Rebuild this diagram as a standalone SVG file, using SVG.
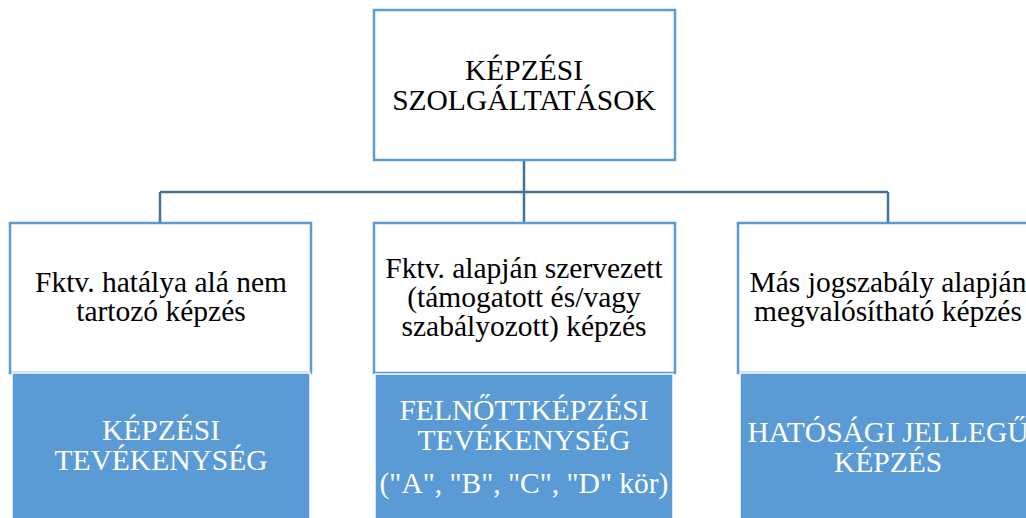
<svg xmlns="http://www.w3.org/2000/svg" width="1026" height="518" viewBox="0 0 1026 518">
<style>
.box{fill:#ffffff;stroke:#5B9BD5;stroke-width:2.5}
.fill{fill:#5B9BD5;stroke:#ffffff;stroke-width:1.5}
.conn{fill:none;stroke:#41719C;stroke-width:2.5}
text{font-family:"Liberation Serif","Times New Roman",serif;font-size:29.5px;text-anchor:middle}
.dark{fill:#000000}
.light{fill:#ffffff}
</style>
<rect width="1026" height="518" fill="#ffffff"/>
<g id="connectors">
<path class="conn" d="M524,160 V223"/>
<path class="conn" d="M160,192 H888"/>
<path class="conn" d="M160,192 V223"/>
<path class="conn" d="M888,192 V223"/>
</g>
<g id="root">
<rect class="box" x="374" y="10" width="301" height="150"/>
<text class="dark" x="524" y="80">KÉPZÉSI</text>
<text class="dark" x="524" y="110">SZOLGÁLTATÁSOK</text>
</g>
<g id="left">
<rect class="box" x="10" y="223" width="301" height="150"/>
<rect class="fill" x="12" y="373" width="298" height="150"/>
<text class="dark" x="161" y="292">Fktv. hatálya alá nem</text>
<text class="dark" x="161" y="321">tartozó képzés</text>
<text class="light" x="161" y="440">KÉPZÉSI</text>
<text class="light" x="161" y="470">TEVÉKENYSÉG</text>
</g>
<g id="middle">
<rect class="box" x="374" y="223" width="301" height="150"/>
<rect class="fill" x="375" y="374" width="298" height="150"/>
<text class="dark" x="524" y="278">Fktv. alapján szervezett</text>
<text class="dark" x="524" y="307">(támogatott és/vagy</text>
<text class="dark" x="524" y="336">szabályozott) képzés</text>
<text class="light" x="524" y="420">FELNŐTTKÉPZÉSI</text>
<text class="light" x="524" y="450">TEVÉKENYSÉG</text>
<text class="light" x="524" y="493">("A", "B", "C", "D" kör)</text>
</g>
<g id="right">
<rect class="box" x="738" y="223" width="301" height="150"/>
<rect class="fill" x="740" y="373" width="298" height="150"/>
<text class="dark" x="888" y="292">Más jogszabály alapján</text>
<text class="dark" x="888" y="321">megvalósítható képzés</text>
<text class="light" x="888" y="442">HATÓSÁGI JELLEGŰ</text>
<text class="light" x="888" y="472">KÉPZÉS</text>
</g>
</svg>
